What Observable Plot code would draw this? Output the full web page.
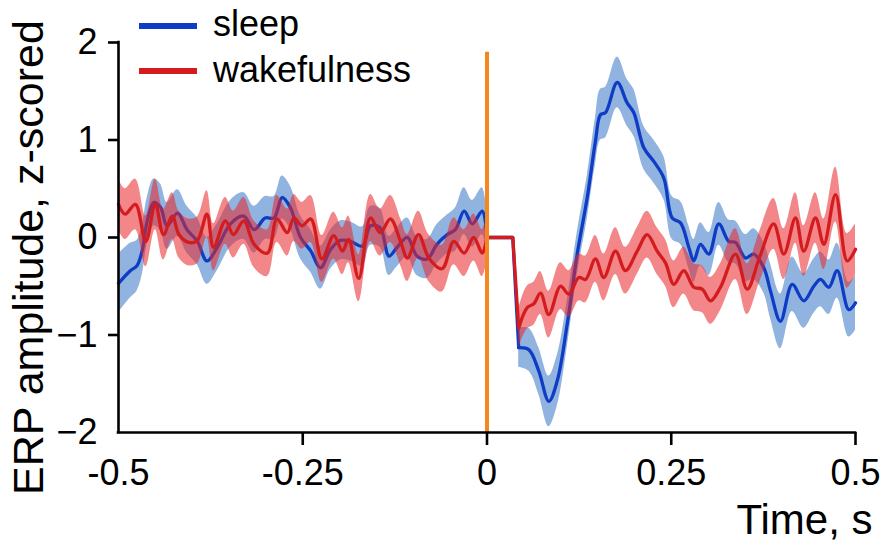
<!DOCTYPE html>
<html>
<head>
<meta charset="utf-8">
<script src="https://cdn.jsdelivr.net/npm/d3@7"></script>
<script src="https://cdn.jsdelivr.net/npm/@observablehq/plot@0.6"></script>
<style>
  html, body { margin: 0; padding: 0; background: #fff; }
  #wrap { position: relative; width: 893px; height: 550px; font-family: "Liberation Sans", Arial, sans-serif; }
  #legend { position: absolute; left: 139px; top: 0; }
  .sw { position: absolute; left: 0; width: 58px; height: 6px; }
  .lt { position: absolute; left: 74px; font-size: 36px; line-height: 36px; white-space: nowrap; color: #000; }
</style>
</head>
<body>
<div id="wrap">
  <div id="chart"></div>
  <div id="legend"></div>
</div>
<script>
// ---------- data ----------
const seriesNames = ["sleep", "wakefulness"];
const seriesColors = ["#0e3cc4", "#d41c1f"];
const bandColors = ["#3a78c8", "#e8282a"];

const xDomain = [-0.5, 0.5];
const yDomain = [-2, 2];
const xTicks = [-0.5, -0.25, 0, 0.25, 0.5];
const xTickLabels = ["-0.5", "-0.25", "0", "0.25", "0.5"];
const xTickMarks = [-0.25, 0, 0.25, 0.5];
const yTicks = [2, 1, 0, -1, -2];
const yTickLabels = ["2", "1", "0", "\u22121", "\u22122"];
const yTickMarks = [2, 1, 0, -1];
const xLabel = "Time, s";
const yLabel = "ERP amplitude, z-scored";
const stimulusTime = 0;
const stimulusLineTop = 1.9;
const blankEnd = 0.035;   // end of the flat (blanked) segment after the stimulus
const responseStart = 0.043;

// sleep: time (s), mean (z), half-width of shaded band
const sleepT = [-0.5, -0.484, -0.475, -0.468, -0.461, -0.452, -0.443, -0.434, -0.420, -0.407,
  -0.393, -0.380, -0.366, -0.348, -0.330, -0.316, -0.301, -0.289, -0.278, -0.267,
  -0.253, -0.239, -0.226, -0.212, -0.199, -0.185, -0.169, -0.158, -0.145, -0.133,
  -0.122, -0.108, -0.095, -0.081, -0.068, -0.054, -0.043, -0.031, -0.020, -0.0065,
  0, 0.035,
  0.043, 0.0567, 0.0703, 0.0839, 0.0953, 0.1088, 0.1224, 0.136,
  0.1472, 0.154, 0.1608, 0.1767, 0.1902, 0.1992, 0.2128, 0.2263, 0.2399, 0.2513,
  0.2626, 0.2738, 0.2806, 0.2897, 0.301, 0.3145, 0.3281, 0.3372, 0.3507, 0.362,
  0.3756, 0.3847, 0.3982, 0.4141, 0.4298, 0.4434, 0.4525, 0.4638, 0.4752, 0.4909,
  0.5];
const sleepV = [-0.47, -0.34, -0.29, -0.14, 0.17, 0.36, 0.31, 0.12, 0.25, 0.08,
  -0.04, -0.24, -0.10, 0.14, 0.22, 0.08, 0.20, 0.20, 0.41, 0.31,
  0.0, -0.14, -0.31, -0.12, -0.03, -0.04, -0.09, 0.12, 0.10, -0.19,
  -0.10, 0.0, -0.19, -0.22, -0.07, 0.03, 0.08, 0.27, 0.14, 0.27,
  0, 0,
  -1.13, -1.15, -1.37, -1.68, -1.47, -0.89, -0.17, 0.41,
  0.99, 1.26, 1.28, 1.59, 1.38, 1.28, 0.92, 0.78, 0.61, 0.20,
  0.15, -0.10, -0.24, -0.07, -0.17, 0.14, -0.04, -0.05, -0.21, -0.17,
  -0.31, -0.55, -0.86, -0.48, -0.65, -0.50, -0.43, -0.51, -0.34, -0.74,
  -0.67];
const sleepE = [0.30, 0.28, 0.26, 0.25, 0.24, 0.24, 0.24, 0.24, 0.24, 0.24,
  0.24, 0.24, 0.24, 0.24, 0.24, 0.24, 0.22, 0.22, 0.22, 0.22,
  0.22, 0.22, 0.22, 0.20, 0.20, 0.20, 0.20, 0.20, 0.20, 0.20,
  0.20, 0.20, 0.20, 0.20, 0.20, 0.20, 0.22, 0.24, 0.24, 0.24,
  0.22, 0,
  0.20, 0.22, 0.24, 0.26, 0.26, 0.24, 0.22, 0.22,
  0.24, 0.26, 0.26, 0.26, 0.24, 0.24, 0.22, 0.22, 0.22, 0.22,
  0.22, 0.22, 0.22, 0.22, 0.22, 0.22, 0.22, 0.22, 0.24, 0.26,
  0.26, 0.28, 0.28, 0.28, 0.28, 0.28, 0.28, 0.28, 0.28, 0.28,
  0.28];

// wakefulness
const wakeT = [-0.5, -0.491, -0.477, -0.463, -0.450, -0.439, -0.427, -0.418, -0.405, -0.393,
  -0.380, -0.371, -0.355, -0.344, -0.330, -0.316, -0.298, -0.285, -0.271, -0.262,
  -0.251, -0.239, -0.224, -0.208, -0.196, -0.188, -0.174, -0.158, -0.145, -0.131,
  -0.117, -0.108, -0.093, -0.079, -0.061, -0.045, -0.031, -0.018, -0.0065, 0,
  0.035, 0.043, 0.0545, 0.0635, 0.0726, 0.0839, 0.0997, 0.111, 0.1246, 0.1337,
  0.1472, 0.1585, 0.1744, 0.1879, 0.2038, 0.2174, 0.2309, 0.2422, 0.2535, 0.267,
  0.2806, 0.292, 0.3033, 0.3168, 0.3372, 0.353, 0.37, 0.389, 0.4027, 0.4186,
  0.4298, 0.4457, 0.457, 0.4729, 0.4887, 0.5];
const wakeV = [0.34, 0.24, 0.34, -0.04, 0.34, 0.03, 0.22, 0.03, -0.05, -0.03,
  0.24, -0.10, 0.17, 0.03, 0.17, -0.07, -0.16, 0.19, 0.05, 0.20,
  0.12, 0.19, -0.22, 0.02, -0.14, -0.02, -0.42, 0.20, 0.05, 0.19,
  -0.05, -0.21, 0.03, -0.21, -0.32, -0.04, -0.16, 0.0, -0.16, 0,
  0, -0.93, -0.72, -0.68, -0.57, -0.79, -0.50, -0.58, -0.41, -0.43,
  -0.22, -0.41, -0.14, -0.34, -0.14, 0.03, -0.14, -0.26, -0.48, -0.34,
  -0.51, -0.53, -0.65, -0.51, -0.17, -0.53, -0.20, 0.14, -0.17, 0.20,
  -0.14, 0.20, -0.07, 0.44, -0.24, -0.12];
const wakeE = [0.26, 0.26, 0.26, 0.26, 0.26, 0.26, 0.24, 0.24, 0.24, 0.24,
  0.24, 0.24, 0.24, 0.24, 0.24, 0.24, 0.24, 0.24, 0.24, 0.24,
  0.24, 0.24, 0.24, 0.24, 0.24, 0.24, 0.24, 0.24, 0.24, 0.24,
  0.24, 0.24, 0.24, 0.24, 0.24, 0.24, 0.24, 0.24, 0.24, 0.24,
  0, 0.20, 0.22, 0.22, 0.22, 0.24, 0.24, 0.24, 0.24, 0.24,
  0.24, 0.24, 0.24, 0.24, 0.24, 0.24, 0.24, 0.24, 0.24, 0.24,
  0.24, 0.24, 0.24, 0.24, 0.26, 0.26, 0.26, 0.26, 0.26, 0.26,
  0.26, 0.26, 0.26, 0.28, 0.28, 0.26];

// ---------- build tables ----------
function rows(T, V, E, name) {
  return T.map((t, i) => ({ t, v: V[i], e: E[i], name, seg: t <= stimulusTime ? "pre" : "post" }));
}
const sleepRows = rows(sleepT, sleepV, sleepE, seriesNames[0]);
const wakeRows = rows(wakeT, wakeV, wakeE, seriesNames[1]);

const font = "'Liberation Sans', Arial, sans-serif";
const curve = "catmull-rom";

function band(data, color) {
  return Plot.areaY(data.filter(d => d.e > 0), {
    x: "t", y1: d => d.v - d.e, y2: d => d.v + d.e, z: "seg",
    fill: color, fillOpacity: 0.56, curve
  });
}
function trace(data, color) {
  const opts = { x: "t", y: "v", stroke: color, strokeWidth: 3.3 };
  return [
    Plot.line(data.filter(d => d.t <= stimulusTime), { ...opts, curve }),
    Plot.line(data.filter(d => d.t >= stimulusTime && d.t <= responseStart), { ...opts, curve: "linear" }),
    Plot.line(data.filter(d => d.t >= responseStart), { ...opts, curve })
  ];
}

const chart = Plot.plot({
  width: 893,
  height: 550,
  marginLeft: 118,
  marginRight: 38,
  marginTop: 42,
  marginBottom: 118,
  style: { fontFamily: font, background: "#fff", color: "#000" },
  x: { domain: xDomain, label: null },
  y: { domain: yDomain, label: null },
  marks: [
    band(sleepRows, bandColors[0]),
    trace(sleepRows, seriesColors[0]),
    band(wakeRows, bandColors[1]),
    trace(wakeRows, seriesColors[1]),
    Plot.ruleX([stimulusTime], { y1: yDomain[0], y2: stimulusLineTop, stroke: "#f7861e", strokeWidth: 4 }),
    Plot.ruleX([xDomain[0]], { stroke: "#000", strokeWidth: 2.6, strokeLinecap: "square" }),
    Plot.ruleY([yDomain[0]], { stroke: "#000", strokeWidth: 2.6, strokeLinecap: "square" }),
    Plot.axisX({ ticks: xTickMarks, tickSize: 13, tickFormat: () => "", strokeWidth: 2.6, label: null }),
    Plot.axisX({ ticks: xTicks, tickSize: 0, tickPadding: 27, fontSize: 36, label: null,
      tickFormat: d => xTickLabels[xTicks.indexOf(d)] }),
    Plot.axisY({ ticks: yTickMarks, tickSize: 10, tickFormat: () => "", strokeWidth: 2.6, label: null }),
    Plot.axisY({ ticks: yTicks, tickSize: 0, tickPadding: 21, fontSize: 36, label: null,
      tickFormat: d => yTickLabels[yTicks.indexOf(d)] }),
    Plot.text([yLabel], { frameAnchor: "left", rotate: -90, textAnchor: "middle", lineAnchor: "middle",
      dx: -89, dy: 20, fontSize: 43 }),
    Plot.text([xLabel], { frameAnchor: "bottom-right", textAnchor: "end", lineAnchor: "middle",
      dx: 17, dy: 88, fontSize: 42 })
  ]
});
document.getElementById("chart").appendChild(chart);

// ---------- legend ----------
const legend = document.getElementById("legend");
const swTops = [23, 68];
const txtTops = [6, 52];
seriesNames.forEach((n, i) => {
  const sw = document.createElement("div");
  sw.className = "sw";
  sw.style.top = swTops[i] + "px";
  sw.style.background = seriesColors[i];
  legend.appendChild(sw);
  const tx = document.createElement("div");
  tx.className = "lt";
  tx.style.top = txtTops[i] + "px";
  tx.textContent = n;
  legend.appendChild(tx);
});
</script>
</body>
</html>
